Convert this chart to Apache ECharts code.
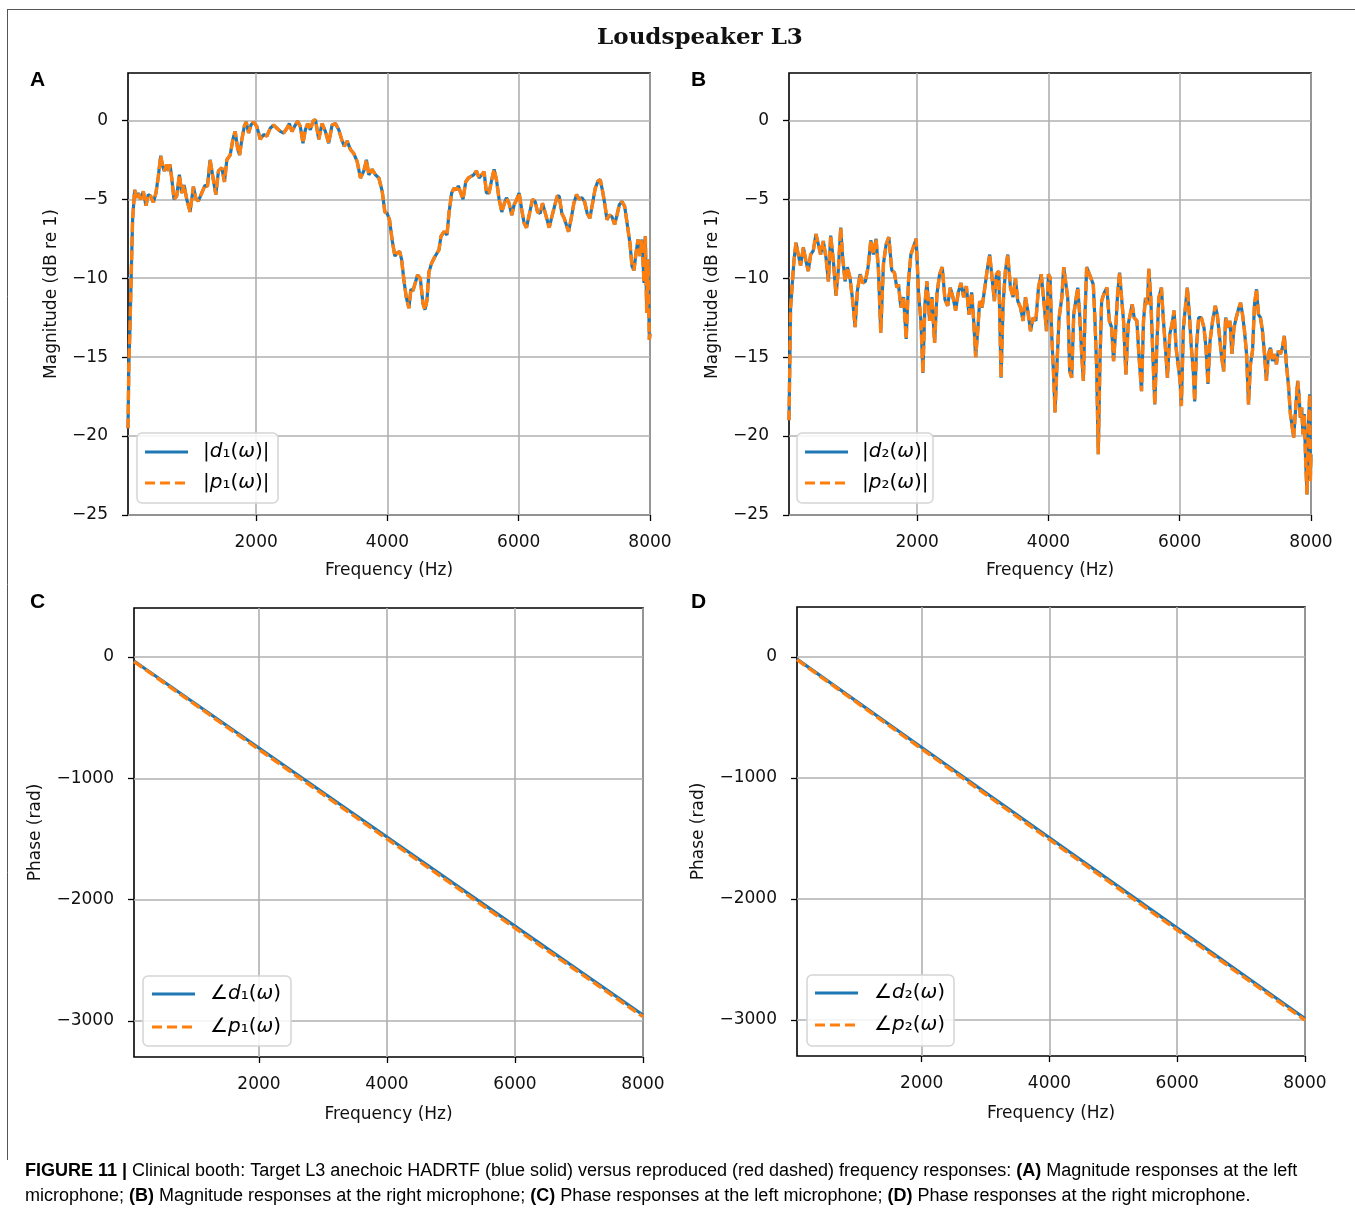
<!DOCTYPE html>
<html>
<head>
<meta charset="utf-8">
<script src="https://cdn.jsdelivr.net/npm/echarts@6/dist/echarts.min.js"></script>
<style>
html,body{margin:0;padding:0;background:#fff;}
#chart{width:1355px;height:1213px;}
</style>
</head>
<body>
<div id="chart"></div>
<script>
// ---------------- DATA ----------------
const freqTicks = [2000, 4000, 6000, 8000];
const magTicks = [-25, -20, -15, -10, -5, 0];
const phaseTicks = [-3000, -2000, -1000, 0];

// Panel A: |d1| and |p1| (dB re 1)
const freqA = [
  47, 60, 76, 102, 117, 148, 178, 204, 239, 280,
  321, 356, 392, 433, 473, 509, 545, 575, 601, 636,
  662, 687, 713, 748, 789, 830, 865, 901, 942, 993,
  1043, 1084, 1120, 1171, 1222, 1257, 1298, 1339, 1385, 1425,
  1476, 1517, 1553, 1604, 1645, 1680, 1716, 1747, 1782, 1818,
  1848, 1884, 1920, 1960, 2011, 2062, 2113, 2163, 2214, 2265,
  2316, 2367, 2418, 2469, 2504, 2545, 2596, 2632, 2673, 2713,
  2749, 2785, 2825, 2866, 2902, 2953, 3004, 3054, 3105, 3156,
  3207, 3258, 3309, 3344, 3385, 3436, 3487, 3538, 3589, 3640,
  3680, 3716, 3767, 3818, 3869, 3920, 3960, 3996, 4031, 4072,
  4113, 4149, 4185, 4215, 4250, 4286, 4327, 4357, 4388, 4418,
  4459, 4500, 4541, 4571, 4602, 4632, 4673, 4714, 4744, 4785,
  4815, 4861, 4907, 4937, 4978, 5014, 5049, 5080, 5116, 5151,
  5192, 5233, 5273, 5314, 5355, 5396, 5436, 5472, 5508, 5548,
  5589, 5625, 5660, 5701, 5742, 5782, 5813, 5853, 5894, 5930,
  5971, 6006, 6047, 6082, 6118, 6159, 6210, 6250, 6286, 6327,
  6362, 6413, 6464, 6505, 6545, 6586, 6617, 6657, 6693, 6718,
  6759, 6800, 6840, 6881, 6922, 6962, 7003, 7044, 7084, 7125,
  7166, 7207, 7242, 7278, 7313, 7344, 7380, 7420, 7461, 7497,
  7532, 7573, 7614, 7654, 7695, 7726, 7756, 7787, 7817, 7848,
  7878, 7909, 7929, 7950, 7970, 7990, 8000
];
const magD1 = [
  -19.5, -15.5, -13.3, -8.8, -6.3, -4.4, -4.9, -4.6, -5.0, -4.5,
  -5.4, -4.7, -4.8, -5.2, -4.6, -3.55, -2.24, -2.9, -3.2, -2.8,
  -3.2, -2.8, -3.65, -5.0, -4.8, -3.45, -4.6, -4.1, -5.0, -5.8,
  -4.2, -5.0, -5.1, -4.6, -4.1, -4.2, -2.5, -3.55, -4.7, -3.2,
  -3.0, -3.9, -2.5, -2.2, -1.2, -0.7, -1.75, -2.2, -1.2, -0.4,
  -0.1, -0.8, -0.3, -0.1, -0.4, -1.2, -0.9, -1.0, -0.5, -0.3,
  -0.5, -0.7, -0.8, -0.5, -0.2, -0.7, -0.3, -0.05, -0.4, -1.45,
  -0.6, -0.2, -0.6, -0.05, 0.05, -1.2, -0.2, -0.7, -1.45, -0.3,
  -0.2, -0.6, -1.3, -1.65, -1.3, -1.85, -2.1, -2.6, -3.65, -3.2,
  -2.5, -3.45, -3.1, -3.45, -3.65, -4.5, -5.8, -5.9, -6.3, -7.6,
  -8.6, -8.4, -8.3, -8.8, -10.1, -11.2, -11.9, -10.7, -10.8, -10.7,
  -9.8, -10.0, -11.6, -12.0, -11.4, -9.6, -9.05, -8.7, -8.8, -8.2,
  -7.35, -7.05, -7.25, -5.9, -4.6, -4.3, -4.4, -4.15, -4.6, -5.0,
  -3.9, -3.65, -3.55, -3.45, -3.2, -3.65, -3.45, -3.25, -4.6, -4.6,
  -3.75, -3.1, -3.75, -5.0, -5.8, -5.25, -4.9, -5.25, -6.0, -5.35,
  -5.0, -4.6, -5.7, -6.5, -6.8, -6.0, -5.0, -5.15, -5.8, -5.9,
  -5.25, -6.0, -6.8, -6.1, -5.45, -4.8, -4.8, -5.9, -6.2, -6.1,
  -7.05, -6.2, -5.25, -4.7, -5.0, -4.9, -5.15, -5.9, -6.2, -5.25,
  -4.3, -3.85, -3.75, -4.5, -5.35, -6.3, -6.0, -6.1, -6.6, -6.0,
  -5.35, -5.15, -5.45, -6.6, -7.8, -9.25, -9.5, -8.4, -7.55, -8.6,
  -7.55, -10.3, -7.35, -12.2, -8.8, -13.9, -13.5
];
// reproduced response overlaps the target at this resolution
const magP1 = magD1.slice();

// Panel B: |d2| and |p2| (dB re 1)
const freqB = [
  47, 71, 102, 122, 153, 188, 224, 265, 305, 341,
  377, 417, 458, 494, 529, 570, 611, 647, 682, 723,
  763, 799, 835, 865, 901, 937, 977, 1018, 1054, 1089,
  1130, 1171, 1211, 1252, 1293, 1333, 1374, 1410, 1445, 1486,
  1527, 1568, 1613, 1654, 1690, 1715, 1751, 1792, 1833, 1868,
  1904, 1945, 1985, 2021, 2057, 2087, 2118, 2148, 2189, 2225,
  2265, 2301, 2341, 2382, 2423, 2464, 2504, 2545, 2586, 2626,
  2667, 2708, 2749, 2789, 2830, 2861, 2891, 2922, 2952, 2988,
  3024, 3064, 3105, 3141, 3176, 3207, 3243, 3278, 3309, 3344,
  3380, 3421, 3461, 3497, 3533, 3573, 3614, 3649, 3685, 3726,
  3767, 3808, 3848, 3889, 3930, 3970, 4000, 4025, 4051, 4076,
  4101, 4132, 4162, 4203, 4233, 4263, 4294, 4324, 4354, 4385,
  4415, 4446, 4476, 4506, 4532, 4557, 4582, 4608, 4643, 4683,
  4709, 4734, 4759, 4785, 4810, 4851, 4891, 4927, 4962, 4992,
  5023, 5053, 5084, 5114, 5144, 5180, 5215, 5245, 5276, 5306,
  5347, 5377, 5418, 5448, 5478, 5509, 5529, 5559, 5590, 5620,
  5650, 5681, 5721, 5752, 5782, 5813, 5848, 5883, 5914, 5944,
  5975, 6005, 6025, 6056, 6086, 6116, 6147, 6177, 6207, 6228,
  6258, 6289, 6329, 6370, 6400, 6430, 6461, 6501, 6542, 6572,
  6603, 6633, 6669, 6699, 6735, 6765, 6795, 6826, 6861, 6896,
  6927, 6957, 6987, 7018, 7048, 7078, 7109, 7139, 7170, 7200,
  7230, 7261, 7291, 7321, 7352, 7382, 7412, 7443, 7473, 7503,
  7534, 7564, 7594, 7625, 7655, 7686, 7716, 7736, 7767, 7797,
  7817, 7838, 7858, 7878, 7898, 7919, 7939, 7959, 7980, 7990,
  8000
];
const magD2 = [
  -19, -11.9, -10.05, -8.9, -7.75, -8.5, -9.2, -8.05, -8.9, -9.55,
  -8.5, -8.25, -7.2, -7.85, -8.5, -7.65, -8.7, -10.2, -7.3, -8.9,
  -11.1, -9.45, -6.8, -8.7, -10.2, -9.3, -10.0, -11.45, -13.1, -10.8,
  -9.75, -10.3, -10.2, -9.3, -7.6, -8.5, -7.5, -9.5, -13.45, -9.1,
  -7.85, -7.4, -9.5, -9.65, -10.6, -10.4, -11.85, -11.2, -13.85, -10.15,
  -8.5, -8.0, -7.5, -11.0, -12.7, -16.0, -11.65, -10.2, -12.7, -11.2,
  -14.1, -11.0, -9.75, -9.3, -11.35, -11.75, -10.6, -11.2, -12.05, -10.9,
  -10.3, -11.2, -10.5, -12.3, -10.9, -12.7, -15.0, -13.35, -11.45, -11.85,
  -10.8, -9.55, -8.5, -10.0, -11.45, -9.75, -9.55, -16.3, -11.65, -9.55,
  -8.5, -10.6, -11.2, -10.0, -11.45, -11.85, -12.7, -11.2, -12.05, -13.35,
  -12.5, -12.7, -10.6, -9.75, -11.45, -13.35, -9.75, -9.95, -13.75, -15.9,
  -18.5, -15.25, -12.5, -11.25, -9.3, -9.2, -11.25, -15.9, -16.3, -12.3,
  -11.45, -10.6, -12.3, -14.8, -16.5, -12.3, -9.3, -9.3, -9.95, -10.4,
  -12.7, -15.65, -21.15, -15.25, -11.45, -10.9, -10.6, -12.7, -13.1, -15.25,
  -13.35, -11.0, -9.65, -11.25, -12.7, -16.1, -12.9, -12.3, -11.65, -12.5,
  -12.7, -14.8, -17.15, -12.7, -11.25, -11.65, -9.4, -11.25, -14.8, -18.0,
  -14.4, -11.25, -10.6, -12.7, -14.4, -16.3, -13.55, -12.9, -12.05, -14.4,
  -15.45, -16.5, -18.1, -13.15, -11.85, -10.6, -12.3, -14.4, -15.9, -17.8,
  -14.2, -12.5, -12.5, -13.15, -14.4, -16.7, -14.0, -12.7, -11.75, -12.3,
  -13.55, -14.8, -15.9, -12.5, -13.15, -12.7, -14.8, -13.15, -12.5, -11.95,
  -11.55, -12.3, -13.35, -14.8, -18.0, -15.45, -14.6, -11.65, -10.7, -12.3,
  -12.5, -13.35, -14.8, -16.5, -14.8, -14.4, -15.25, -14.8, -15.45, -14.6,
  -14.8, -14.4, -13.65, -15.45, -16.7, -18.6, -19.5, -20.1, -18.2, -16.5,
  -17.35, -18.85, -18.2, -19.9, -18.6, -21.6, -23.7, -19.5, -17.35, -22.85,
  -21.15
];
const magP2 = magD2.slice();

// Panels C and D: unwrapped phase (rad)
const freqPhase = [47, 2000, 4000, 6000, 8000];
const phaseD1 = [-33, -750, -1484, -2218, -2951];
const phaseP1 = [-38, -763, -1499, -2234, -2965];
const phaseD2 = [-17, -747, -1494, -2241, -2988];
const phaseP2 = [-22, -760, -1509, -2257, -3001];

// ---------------- CHART ----------------
function pairs(xs, ys) {
  if (xs.length !== ys.length) console.error('length mismatch', xs.length, ys.length);
  const n = Math.min(xs.length, ys.length);
  const out = [];
  for (let i = 0; i < n; i++) out.push([xs[i], ys[i]]);
  return out;
}

const BLUE = '#1f77b4', ORANGE = '#ff7f0e';
const FONT = 'DejaVu Sans';
const minusFmt = v => String(v).replace('-', '\u2212');

const grids = [
  {left: 128, top: 73, width: 522, height: 442},
  {left: 789, top: 73, width: 522, height: 442},
  {left: 134, top: 608, width: 509, height: 449},
  {left: 797, top: 607, width: 508, height: 449}
];
const yRanges = [[-25, 3], [-25, 3], [-3297, 404], [-3298, 414]];
const yNames = ['Magnitude (dB re 1)', 'Magnitude (dB re 1)', 'Phase (rad)', 'Phase (rad)'];
const yNameGaps = [68, 68, 90, 90];
const xNameGaps = [47, 47, 49, 49];
const yTickSets = [magTicks, magTicks, phaseTicks, phaseTicks];

const option = {
  animation: false,
  backgroundColor: '#fff',
  grid: grids.map(g => Object.assign({show: true, borderColor: '#000', borderWidth: 1.6, containLabel: false}, g)),
  xAxis: grids.map((g, i) => ({
    type: 'value', gridIndex: i, min: 47, max: 8000, position: 'bottom',
    name: 'Frequency (Hz)', nameLocation: 'middle', nameGap: xNameGaps[i],
    nameTextStyle: {fontFamily: FONT, fontSize: 17, color: '#111'},
    axisLine: {show: false, onZero: false},
    axisTick: {show: true, inside: false, length: 6, lineStyle: {color: '#000', width: 1.3}, customValues: freqTicks},
    axisLabel: {fontFamily: FONT, fontSize: 17, color: '#111', margin: 19, customValues: freqTicks, formatter: minusFmt},
    splitLine: {show: true, lineStyle: {color: '#b0b0b0', width: 1.6}}
  })),
  yAxis: grids.map((g, i) => ({
    type: 'value', gridIndex: i, min: yRanges[i][0], max: yRanges[i][1], position: 'left',
    name: yNames[i], nameLocation: 'middle', nameGap: yNameGaps[i], nameRotate: 90,
    nameTextStyle: {fontFamily: FONT, fontSize: 17, color: '#111'},
    axisLine: {show: false, onZero: false},
    axisTick: {show: true, inside: false, length: 6, lineStyle: {color: '#000', width: 1.3}, customValues: yTickSets[i]},
    axisLabel: {fontFamily: FONT, fontSize: 17, color: '#111', margin: 20, customValues: yTickSets[i], formatter: minusFmt},
    splitLine: {show: true, lineStyle: {color: '#b0b0b0', width: 1.6}}
  })),
  series: [],
  graphic: []
};

function addPair(idx, fx, dv, pv) {
  option.series.push({
    type: 'line', xAxisIndex: idx, yAxisIndex: idx, data: pairs(fx, dv),
    showSymbol: false, symbol: 'none', z: 3,
    lineStyle: {color: BLUE, width: 3.2}
  });
  option.series.push({
    type: 'line', xAxisIndex: idx, yAxisIndex: idx, data: pairs(fx, pv),
    showSymbol: false, symbol: 'none', z: 4,
    lineStyle: {color: ORANGE, width: 3.4, type: [10, 4]}
  });
}
addPair(0, freqA, magD1, magP1);
addPair(1, freqB, magD2, magP2);
addPair(2, freqPhase, phaseD1, phaseP1);
addPair(3, freqPhase, phaseD2, phaseP2);

// legend boxes
const legends = [
  {x: 137, y: 433, w: 141, h: 70, lx: 145, l1: 452, l2: 483, tx: 203, pre: '|', post: '|', sub: '\u2081'},
  {x: 797, y: 433, w: 136, h: 70, lx: 805, l1: 452, l2: 483, tx: 862, pre: '|', post: '|', sub: '\u2082'},
  {x: 143, y: 976, w: 148, h: 70, lx: 152, l1: 994, l2: 1027, tx: 210, pre: '\u2220', post: '', sub: '\u2081'},
  {x: 807, y: 975, w: 147, h: 71, lx: 815, l1: 993, l2: 1025, tx: 874, pre: '\u2220', post: '', sub: '\u2082'}
];
const legRich = {
  n: {fontFamily: FONT, fontSize: 20, color: '#111'},
  i: {fontFamily: FONT, fontSize: 20, fontStyle: 'italic', color: '#111'},
  s: {fontFamily: FONT, fontSize: 20, color: '#111'}
};
legends.forEach(L => {
  const g = option.graphic;
  g.push({type: 'rect', z: 100, shape: {x: L.x, y: L.y, width: L.w, height: L.h, r: 5},
    style: {fill: 'rgba(255,255,255,0.85)', stroke: '#d5d5d5', lineWidth: 1.5}});
  g.push({type: 'line', z: 101, shape: {x1: L.lx, y1: L.l1, x2: L.lx + 43, y2: L.l1},
    style: {stroke: BLUE, lineWidth: 3}});
  g.push({type: 'line', z: 101, shape: {x1: L.lx, y1: L.l2, x2: L.lx + 43, y2: L.l2},
    style: {stroke: ORANGE, lineWidth: 3, lineDash: [10, 5]}});
  ['d', 'p'].forEach((ch, k) => {
    g.push({type: 'text', z: 101, x: L.tx, y: k === 0 ? L.l1 : L.l2,
      style: {text: '{n|' + L.pre + '}{i|' + ch + '}{s|' + L.sub + '}{n|(}{i|\u03c9}{n|)' + L.post + '}',
        rich: legRich, verticalAlign: 'middle', align: 'left'}});
  });
});

// panel letters
[['A', 30, 80], ['B', 691, 80], ['C', 30, 602], ['D', 691, 602]].forEach(p => {
  option.graphic.push({type: 'text', z: 50, x: p[1], y: p[2],
    style: {text: p[0], fontFamily: 'Liberation Sans', fontWeight: 'bold', fontSize: 21, fill: '#000', verticalAlign: 'middle'}});
});

// title
option.graphic.push({type: 'text', z: 50, x: 700, y: 38,
  style: {text: 'Loudspeaker L3', fontFamily: 'DejaVu Serif', fontWeight: 'bold', fontSize: 23, fill: '#111',
    align: 'center', verticalAlign: 'middle'}});

// frame lines
option.graphic.push({type: 'line', z: 50, shape: {x1: 7, y1: 9.5, x2: 1355, y2: 9.5}, style: {stroke: '#555', lineWidth: 1}});
option.graphic.push({type: 'line', z: 50, shape: {x1: 7.5, y1: 9, x2: 7.5, y2: 1160}, style: {stroke: '#555', lineWidth: 1}});

// caption
const capRich = {
  b: {fontFamily: 'Liberation Sans', fontSize: 18, fontWeight: 'bold', color: '#333'},
  r: {fontFamily: 'Liberation Sans', fontSize: 18, color: '#333'}
};
option.graphic.push({type: 'text', z: 50, x: 25, y: 1171,
  style: {text: '{b|FIGURE 11 |}{r| Clinical booth: Target L3 anechoic HADRTF (blue solid) versus reproduced (red dashed) frequency responses: }{b|(A)}{r| Magnitude responses at the left}',
    rich: capRich, verticalAlign: 'middle'}});
option.graphic.push({type: 'text', z: 50, x: 25, y: 1196,
  style: {text: '{r|microphone; }{b|(B)}{r| Magnitude responses at the right microphone; }{b|(C)}{r| Phase responses at the left microphone; }{b|(D)}{r| Phase responses at the right microphone.}',
    rich: capRich, verticalAlign: 'middle'}});

const chart = echarts.init(document.getElementById('chart'), null, {renderer: 'canvas'});
chart.setOption(option);
</script>
</body>
</html>
